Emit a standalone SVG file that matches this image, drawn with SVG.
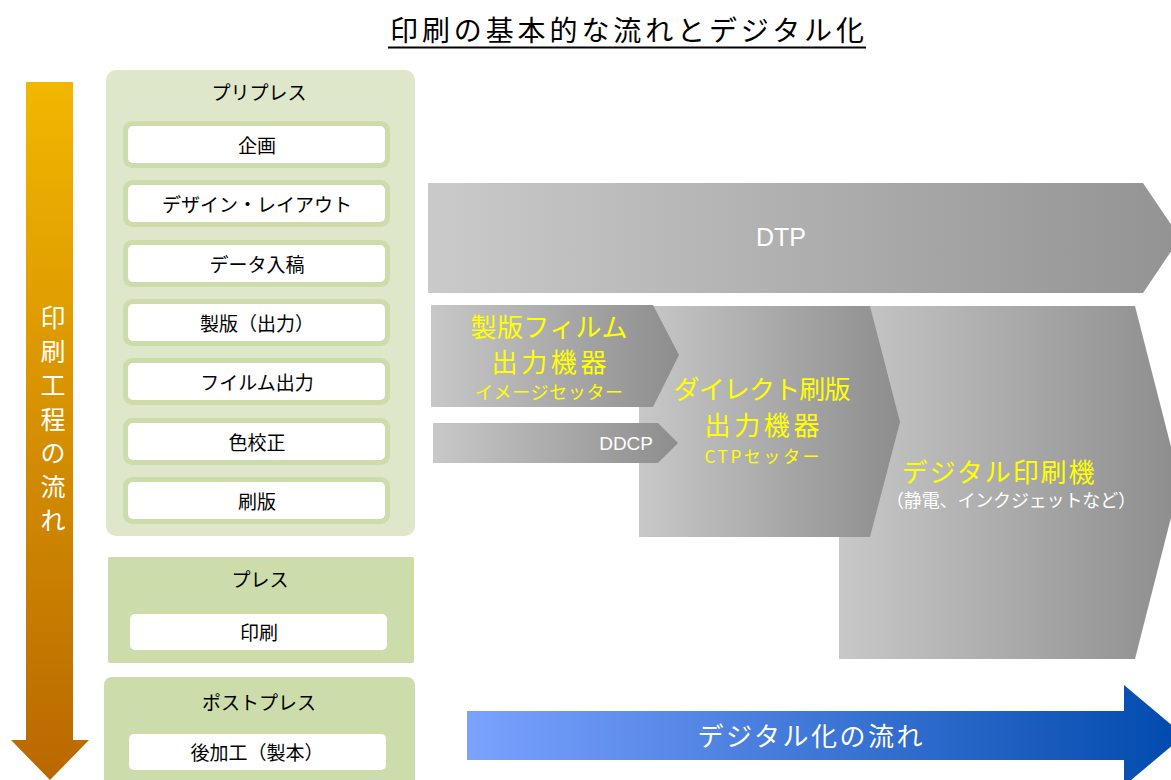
<svg xmlns="http://www.w3.org/2000/svg" width="1171" height="780" viewBox="0 0 1171 780">
<defs>
<linearGradient id="gOrange" x1="0" y1="0" x2="0" y2="1">
<stop offset="0" stop-color="#F2B700"/><stop offset="1" stop-color="#B96800"/>
</linearGradient>
<linearGradient id="gGrey" x1="0" y1="0" x2="1" y2="0">
<stop offset="0" stop-color="#CACACA"/><stop offset="1" stop-color="#939393"/>
</linearGradient>
<linearGradient id="gGrey2" x1="0" y1="0" x2="1" y2="0">
<stop offset="0" stop-color="#C8C8C8"/><stop offset="1" stop-color="#8D8D8D"/>
</linearGradient>
<linearGradient id="gBlue" x1="0" y1="0" x2="1" y2="0">
<stop offset="0" stop-color="#7BA2FF"/><stop offset="1" stop-color="#004AAD"/>
</linearGradient>
<style>
.jp{font-family:"Noto Sans CJK JP","Noto Sans",sans-serif;}
.lbl{font-size:19px;fill:#000;text-anchor:middle;}
.item-o{fill:#CDDCAB;}
.item-i{fill:#FFFFFF;}
.yel{fill:#FFFF00;text-anchor:middle;}
.wht{fill:#FFFFFF;text-anchor:middle;}
</style>
</defs>
<rect width="1171" height="780" fill="#FFFFFF"/>

<g id="title">
<text class="jp" x="627" y="41" font-size="28" text-anchor="middle" textLength="474" lengthAdjust="spacing" fill="#000">印刷の基本的な流れとデジタル化</text>
<line x1="388" y1="47.5" x2="866" y2="47.5" stroke="#000" stroke-width="2"/>
</g>

<g id="process-flow">
<polygon points="26,82 73,82 73,740 89,740 50,780 11,740 26,740" fill="url(#gOrange)"/>
<g class="jp" font-size="25" fill="#FFFFFF" text-anchor="middle">
<text x="53" y="326.5">印</text>
<text x="53" y="360.5">刷</text>
<text x="53" y="394.5">工</text>
<text x="53" y="428.5">程</text>
<text x="53" y="461.5">の</text>
<text x="53" y="495.5">流</text>
<text x="53" y="529.5">れ</text>
</g>
</g>

<g id="prepress">
<rect x="106" y="70" width="309" height="466" rx="10" fill="#DEE7CA"/>
<text class="jp lbl" x="259" y="100">プリプレス</text>
</g>
<g id="item-kikaku">
<rect class="item-o" x="123" y="121" width="267" height="47" rx="9"/>
<rect class="item-i" x="128" y="126" width="257" height="37" rx="5"/>
<text class="jp lbl" x="257" y="152.5">企画</text>
</g>
<g id="item-design">
<rect class="item-o" x="123" y="180" width="267" height="47" rx="9"/>
<rect class="item-i" x="128" y="185" width="257" height="37" rx="5"/>
<text class="jp lbl" x="257" y="211.5">デザイン・レイアウト</text>
</g>
<g id="item-data">
<rect class="item-o" x="123" y="240" width="267" height="47" rx="9"/>
<rect class="item-i" x="128" y="245" width="257" height="37" rx="5"/>
<text class="jp lbl" x="257" y="271.5">データ入稿</text>
</g>
<g id="item-seihan">
<rect class="item-o" x="123" y="299" width="267" height="47" rx="9"/>
<rect class="item-i" x="128" y="304" width="257" height="37" rx="5"/>
<text class="jp lbl" x="257" y="330.5">製版（出力）</text>
</g>
<g id="item-film">
<rect class="item-o" x="123" y="358" width="267" height="47" rx="9"/>
<rect class="item-i" x="128" y="363" width="257" height="37" rx="5"/>
<text class="jp lbl" x="257" y="389.5">フイルム出力</text>
</g>
<g id="item-proof">
<rect class="item-o" x="123" y="418" width="267" height="47" rx="9"/>
<rect class="item-i" x="128" y="423" width="257" height="37" rx="5"/>
<text class="jp lbl" x="257" y="449.5">色校正</text>
</g>
<g id="item-plate">
<rect class="item-o" x="123" y="477" width="267" height="47" rx="9"/>
<rect class="item-i" x="128" y="482" width="257" height="37" rx="5"/>
<text class="jp lbl" x="257" y="508.5">刷版</text>
</g>

<g id="press">
<rect x="108" y="557" width="306" height="106" rx="2" fill="#CDDCAB"/>
<text class="jp lbl" x="260" y="587">プレス</text>
<rect x="130" y="614" width="257" height="36" rx="5" fill="#FFFFFF"/>
<text class="jp lbl" x="259" y="639.5">印刷</text>
</g>

<g id="postpress">
<rect x="104" y="677" width="311" height="120" rx="8" fill="#CDDCAB"/>
<text class="jp lbl" x="259" y="710">ポストプレス</text>
<rect x="129" y="734" width="257" height="36" rx="5" fill="#FFFFFF"/>
<text class="jp lbl" x="257" y="759.5">後加工（製本）</text>
</g>

<g id="dtp">
<polygon points="428,183 1143,183 1180,238 1143,293 428,293" fill="url(#gGrey)"/>
<text x="781" y="246" font-family="Liberation Sans, Arial, sans-serif" font-size="25" class="wht">DTP</text>
</g>

<g id="digital-press">
<polygon points="839,306 1135,306 1180,482 1135,659 839,659" fill="url(#gGrey2)"/>
<text class="jp yel" x="998" y="482" font-size="26" textLength="193" lengthAdjust="spacing">デジタル印刷機</text>
<text class="jp wht" x="1011" y="507" font-size="18" textLength="250" lengthAdjust="spacing">（静電、インクジェットなど）</text>
</g>

<g id="ctp">
<polygon points="639,306 870,306 900,422 870,537 639,537" fill="url(#gGrey2)"/>
<text class="jp yel" x="762" y="399" font-size="26" textLength="177" lengthAdjust="spacing">ダイレクト刷版</text>
<text class="jp yel" x="762" y="435" font-size="26" textLength="115" lengthAdjust="spacing">出力機器</text>
<text class="jp yel" x="762" y="462.5" font-size="17" textLength="115" lengthAdjust="spacing">CTPセッター</text>
</g>

<g id="imagesetter">
<polygon points="431,305 653,305 679,355 653,407 431,407" fill="url(#gGrey2)"/>
<text class="jp yel" x="549" y="337" font-size="26" textLength="157" lengthAdjust="spacing">製版フィルム</text>
<text class="jp yel" x="549" y="372" font-size="26" textLength="115" lengthAdjust="spacing">出力機器</text>
<text class="jp yel" x="549" y="399" font-size="18" textLength="148" lengthAdjust="spacing">イメージセッター</text>
</g>

<g id="ddcp">
<polygon points="433,423 658,423 678,443 658,463 433,463" fill="url(#gGrey2)"/>
<text x="653" y="450" font-family="Liberation Sans, Arial, sans-serif" font-size="19" fill="#FFFFFF" text-anchor="end">DDCP</text>
</g>

<g id="digitalization">
<polygon points="467,711 1124,711 1124,685 1184,735.5 1124,786 1124,760 467,760" fill="url(#gBlue)"/>
<text class="jp wht" x="810" y="746" font-size="26" textLength="225" lengthAdjust="spacing">デジタル化の流れ</text>
</g>

<g id="connectors"></g>
</svg>
